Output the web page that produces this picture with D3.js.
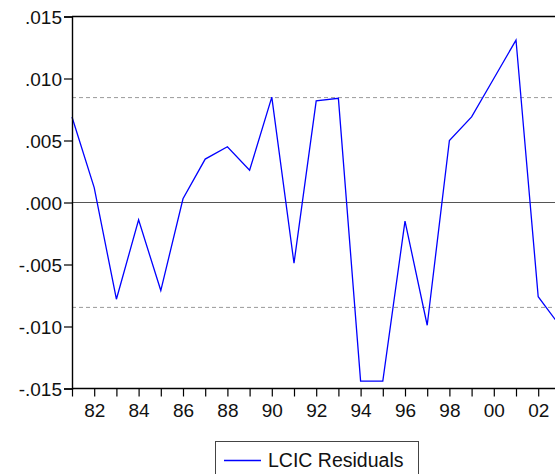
<!DOCTYPE html>
<html>
<head>
<meta charset="utf-8">
<script src="https://cdn.jsdelivr.net/npm/d3@7"></script>
<style>
  body { margin: 0; background: #fff; }
  svg { display: block; font-family: "Liberation Sans", Arial, sans-serif; }
</style>
</head>
<body>
<div id="chart"></div>
<script>
// LCIC residuals by year
var years = [1981, 1982, 1983, 1984, 1985, 1986, 1987, 1988, 1989, 1990, 1991, 1992,
             1993, 1994, 1995, 1996, 1997, 1998, 1999, 2000, 2001, 2002, 2003];
var residuals = [0.0069, 0.0012, -0.0078, -0.0014, -0.0071, 0.0003, 0.0035, 0.0045, 0.0026,
                 0.0085, -0.0049, 0.0082, 0.0084, -0.0144, -0.0144, -0.0015, -0.0099,
                 0.0050, 0.0069, 0.0100, 0.0131, -0.0076, -0.0100];
var yTicks = [-0.015, -0.010, -0.005, 0.000, 0.005, 0.010, 0.015];
var bandLines = [0.00846, -0.00846];
var seriesName = "LCIC Residuals";

var width = 555, height = 474;
var margin = { top: 16.5, left: 72, bottom: 388.5 };

var svg = d3.select("#chart").append("svg")
  .attr("width", width)
  .attr("height", height);

var x = d3.scaleLinear()
  .domain([1981, 2003])
  .range([margin.left, margin.left + 22 * 22.2]);

var y = d3.scaleLinear()
  .domain([-0.015, 0.015])
  .range([margin.bottom, margin.top]);

var fmt = function (d) {
  var s = d3.format(".3f")(Math.abs(d)).replace(/^0/, "");
  return (d < 0 ? "-" : "") + s;
};

// dashed reference lines
svg.selectAll(".band")
  .data(bandLines)
  .enter().append("line")
  .attr("x1", margin.left).attr("x2", width)
  .attr("y1", d => y(d)).attr("y2", d => y(d))
  .attr("stroke", "#9a9a9a")
  .attr("stroke-width", 1)
  .attr("stroke-dasharray", "4,3");

// zero line
svg.append("line")
  .attr("x1", margin.left).attr("x2", width)
  .attr("y1", y(0)).attr("y2", y(0))
  .attr("stroke", "#555")
  .attr("stroke-width", 1.2);

// series
var line = d3.line()
  .x((d, i) => x(years[i]))
  .y(d => y(d));

svg.append("path")
  .datum(residuals)
  .attr("d", line)
  .attr("fill", "none")
  .attr("stroke", "#0000ff")
  .attr("stroke-width", 1.3);

// frame: top border
svg.append("line")
  .attr("x1", margin.left).attr("x2", width)
  .attr("y1", margin.top).attr("y2", margin.top)
  .attr("stroke", "#000").attr("stroke-width", 1.4);

// left axis
var yAxis = d3.axisLeft(y)
  .tickValues(yTicks)
  .tickSize(8)
  .tickPadding(2)
  .tickFormat(fmt);

var gy = svg.append("g")
  .attr("transform", `translate(${margin.left},0)`)
  .call(yAxis);
gy.select(".domain").attr("stroke", "#000").attr("stroke-width", 1.4);
gy.selectAll(".tick line").attr("stroke", "#000").attr("stroke-width", 1.2);
gy.selectAll(".tick text")
  .attr("fill", "#111")
  .style("font-size", "19px")
  .attr("dy", "0.35em");

// bottom axis
var xAxis = d3.axisBottom(x)
  .tickValues(d3.range(1981, 2004))
  .tickSize(8)
  .tickPadding(7)
  .tickFormat(d => d % 2 === 0 ? String(d).slice(2) : "");

var gx = svg.append("g")
  .attr("transform", `translate(0,${margin.bottom})`)
  .call(xAxis);
gx.select(".domain").attr("stroke", "#000").attr("stroke-width", 1.4)
  .attr("d", `M${margin.left},0H${width}`);
gx.selectAll(".tick line").attr("stroke", "#000").attr("stroke-width", 1.2);
gx.selectAll(".tick text")
  .attr("fill", "#111")
  .style("font-size", "19px");

// legend
var legend = svg.append("g");
legend.append("rect")
  .attr("x", 215.5).attr("y", 441.5)
  .attr("width", 203).attr("height", 40)
  .attr("fill", "#fff")
  .attr("stroke", "#444")
  .attr("stroke-width", 1);
legend.append("line")
  .attr("x1", 224).attr("x2", 261)
  .attr("y1", 460.5).attr("y2", 460.5)
  .attr("stroke", "#0000ff")
  .attr("stroke-width", 1.3);
legend.append("text")
  .attr("x", 268)
  .attr("y", 467)
  .attr("fill", "#111")
  .style("font-size", "19.5px")
  .text(seriesName);
</script>
</body>
</html>
